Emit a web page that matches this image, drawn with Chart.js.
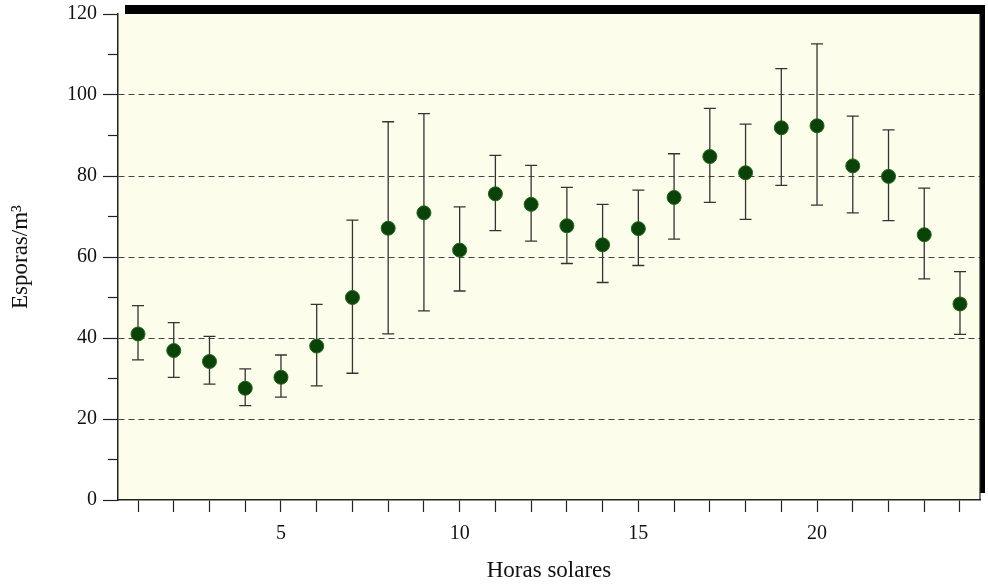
<!DOCTYPE html>
<html>
<head>
<meta charset="utf-8">
<script src="https://cdn.jsdelivr.net/npm/chart.js@4.4.0/dist/chart.umd.min.js"></script>
<style>
html,body{margin:0;padding:0;background:#fff;}
#wrap{width:988px;height:585px;position:relative;}
</style>
</head>
<body>
<div id="wrap"><canvas id="c" width="988" height="585"></canvas></div>
<script>
const hours = [1,2,3,4,5,6,7,8,9,10,11,12,13,14,15,16,17,18,19,20,21,22,23,24];
const means = [41,36.9,34.2,27.6,30.3,38,50,67.1,70.9,61.7,75.6,73,67.7,63,67,74.7,84.8,80.8,91.9,92.4,82.5,79.9,65.5,48.4];
const upper = [48,43.8,40.4,32.4,35.8,48.3,69.1,93.4,95.4,72.4,85.1,82.6,77.2,73,76.5,85.5,96.7,92.8,106.5,112.6,94.8,91.4,77,56.4];
const lower = [34.6,30.3,28.6,23.3,25.4,28.2,31.3,41,46.7,51.6,66.5,63.9,58.4,53.7,57.9,64.4,73.5,69.3,77.7,72.8,70.9,69,54.6,40.9];
const xLabels = [5,10,15,20];
const yLabels = [0,20,40,60,80,100,120];

const points = hours.map((h,i)=>({x:h,y:means[i]}));
const serif = '"Liberation Serif", "DejaVu Serif", serif';

const framePlugin = {
  id:'frame',
  beforeDraw(chart){
    const {ctx, chartArea:a} = chart;
    ctx.save();
    ctx.fillStyle = '#fdfdec';
    ctx.fillRect(a.left, a.top, a.right-a.left, a.bottom-a.top);
    ctx.restore();
  },
  afterDraw(chart){
    const {ctx, chartArea:a} = chart;
    ctx.save();
    ctx.fillStyle = '#000';
    ctx.fillRect(a.left+7, a.top-9, a.right - a.left - 7 + 5, 9);
    ctx.fillRect(a.right, a.top-9, 5, a.bottom - a.top + 2);
    ctx.strokeStyle = '#222';
    ctx.lineWidth = 1.2;
    ctx.beginPath();
    ctx.moveTo(a.right, a.top);
    ctx.lineTo(a.right, a.bottom);
    ctx.stroke();
    const ys = chart.scales.y;
    for (let v=10; v<120; v+=20){
      const py = ys.getPixelForValue(v);
      ctx.beginPath();
      ctx.moveTo(a.left-10, py);
      ctx.lineTo(a.left, py);
      ctx.stroke();
    }
    ctx.restore();
  }
};

const errPlugin = {
  id:'errbars',
  beforeDatasetsDraw(chart){
    const {ctx} = chart;
    const xs = chart.scales.x, ys = chart.scales.y;
    ctx.save();
    ctx.strokeStyle = '#333';
    ctx.lineWidth = 1.3;
    hours.forEach((h,i)=>{
      const px = xs.getPixelForValue(h);
      const pt = ys.getPixelForValue(upper[i]);
      const pb = ys.getPixelForValue(lower[i]);
      ctx.beginPath();
      ctx.moveTo(px, pt); ctx.lineTo(px, pb);
      ctx.moveTo(px-6, pt); ctx.lineTo(px+6, pt);
      ctx.moveTo(px-6, pb); ctx.lineTo(px+6, pb);
      ctx.stroke();
    });
    ctx.restore();
  }
};

new Chart(document.getElementById('c'), {
  type:'scatter',
  data:{datasets:[{
    data:points,
    backgroundColor:'#0a420a',
    borderColor:'#1d6a12',
    borderWidth:1,
    pointRadius:7,
    pointHoverRadius:7
  }]},
  options:{
    responsive:false,
    animation:false,
    devicePixelRatio:1,
    layout:{padding:{left:0,right:2,top:14,bottom:0}},
    plugins:{legend:{display:false},tooltip:{enabled:false}},
    scales:{
      x:{
        type:'linear',
        min:0.44, max:24.56,
        afterBuildTicks(s){ s.ticks = hours.map(v=>({value:v})); },
        afterFit(s){ s.height = 85; s.paddingLeft = 0; s.paddingRight = 0; },
        ticks:{
          autoSkip:false,
          maxRotation:0,
          padding:10,
          color:'#111',
          font:{family:serif, size:20},
          callback:(v)=> xLabels.includes(v) ? String(v) : ''
        },
        grid:{drawOnChartArea:false, drawTicks:true, tickLength:12, tickColor:'#222', tickWidth:1.2},
        border:{display:true, color:'#222', width:1.5},
        title:{display:true, text:'Horas solares', color:'#111',
          font:{family:serif, size:23},
          padding:{top:10,bottom:0}}
      },
      y:{
        min:0, max:120,
        afterBuildTicks(s){ s.ticks = yLabels.map(v=>({value:v})); },
        afterFit(s){ s.width = 118; s.paddingTop = 0; s.paddingBottom = 0; },
        ticks:{
          padding:6,
          color:'#111',
          font:{family:serif, size:20}
        },
        grid:{
          drawTicks:true, tickLength:15, tickWidth:1.2, tickColor:'#222',
          color:(c)=> (c.tick && c.tick.value>0 && c.tick.value<120) ? '#444' : 'rgba(0,0,0,0)',
          lineWidth:1
        },
        border:{display:true, color:'#222', width:1.5, dash:[6,4]},
        title:{display:true, text:'Esporas/m³', color:'#111',
          font:{family:serif, size:23},
          padding:{top:7,bottom:30}}
      }
    }
  },
  plugins:[framePlugin, errPlugin]
});
</script>
</body>
</html>
